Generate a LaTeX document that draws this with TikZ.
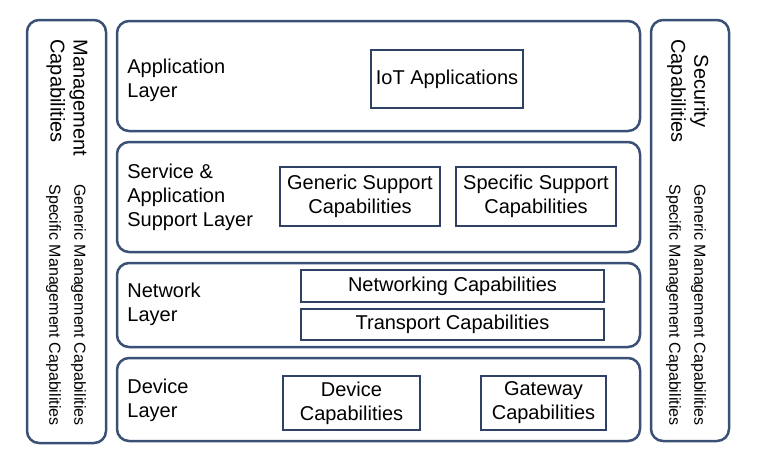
\documentclass[tikz,border=0pt]{standalone}
\usepackage{fontspec}
\setmainfont{Liberation Sans}
\usetikzlibrary{positioning}
\definecolor{layerblue}{HTML}{3B5075}
\definecolor{boxblue}{HTML}{2F4266}
\tikzset{
  layer/.style={draw=layerblue,line width=1.25pt,rounded corners=6pt},
  capbox/.style={draw=boxblue,line width=1pt,align=center,inner sep=0pt},
  lbl/.style={right,align=left,inner sep=0pt},
  sidetxt/.style={rotate=-90,inner sep=0pt}
}

\begin{document}
\begin{tikzpicture}[x=0.5pt,y=-0.5pt,font=\fontsize{10}{12}\selectfont]
\useasboundingbox (0,0) rectangle (780,462);
% side columns
\draw[layer] (27,20) rectangle (106,443);
\draw[layer] (651,20) rectangle (729,441);
\node[sidetxt,anchor=west,align=left,font=\fontsize{10}{11.5}\selectfont] (mgmt) at (67,39) {Management\\Capabilities};
\node[sidetxt,align=center,font=\fontsize{8}{12.5}\selectfont] (mgmtcap) at (66,305) {Generic Management Capabilities\\Specific Management Capabilities};
\node[sidetxt,anchor=west,align=center,font=\fontsize{10}{11.5}\selectfont] (sec) at (688,39) {Security\\Capabilities};
\node[sidetxt,align=center,font=\fontsize{8}{12.5}\selectfont] (seccap) at (686,305) {Generic Management Capabilities\\Specific Management Capabilities};
% layers
\draw[layer] (117,21) rectangle (640,131);
\draw[layer] (117,142) rectangle (640,252);
\draw[layer] (117,263) rectangle (640,347);
\draw[layer] (117,358) rectangle (640,441);
\node[lbl] (app) at (127,80) {Application\\Layer};
\node[lbl] (srv) at (127,197) {Service \&\\Application\\Support Layer};
\node[lbl] (net) at (127,304) {Network\\Layer};
\node[lbl] (dev) at (127,400) {Device\\Layer};
% capabilities
\node[capbox,minimum width=76pt,minimum height=29pt] (iot) at (447,79) {IoT Applications};
\node[capbox,minimum width=80pt,minimum height=29.5pt] (gensup) at (360,196.5) {Generic Support\\Capabilities};
\node[capbox,minimum width=80pt,minimum height=29.5pt] (specsup) at (536,196.5) {Specific Support\\Capabilities};
\node[capbox,minimum width=151.5pt,minimum height=16pt] (netcap) at (452.5,286) {Networking Capabilities};
\node[capbox,minimum width=151.5pt,minimum height=15.5pt] (trcap) at (452.5,324.5) {Transport Capabilities};
\node[capbox,minimum width=68.5pt,minimum height=27pt] (devcap) at (351.5,403) {Device\\Capabilities};
\node[capbox,minimum width=62.5pt,minimum height=27pt] (gwcap) at (543.5,403) {Gateway\\Capabilities};
\end{tikzpicture}
\end{document}
